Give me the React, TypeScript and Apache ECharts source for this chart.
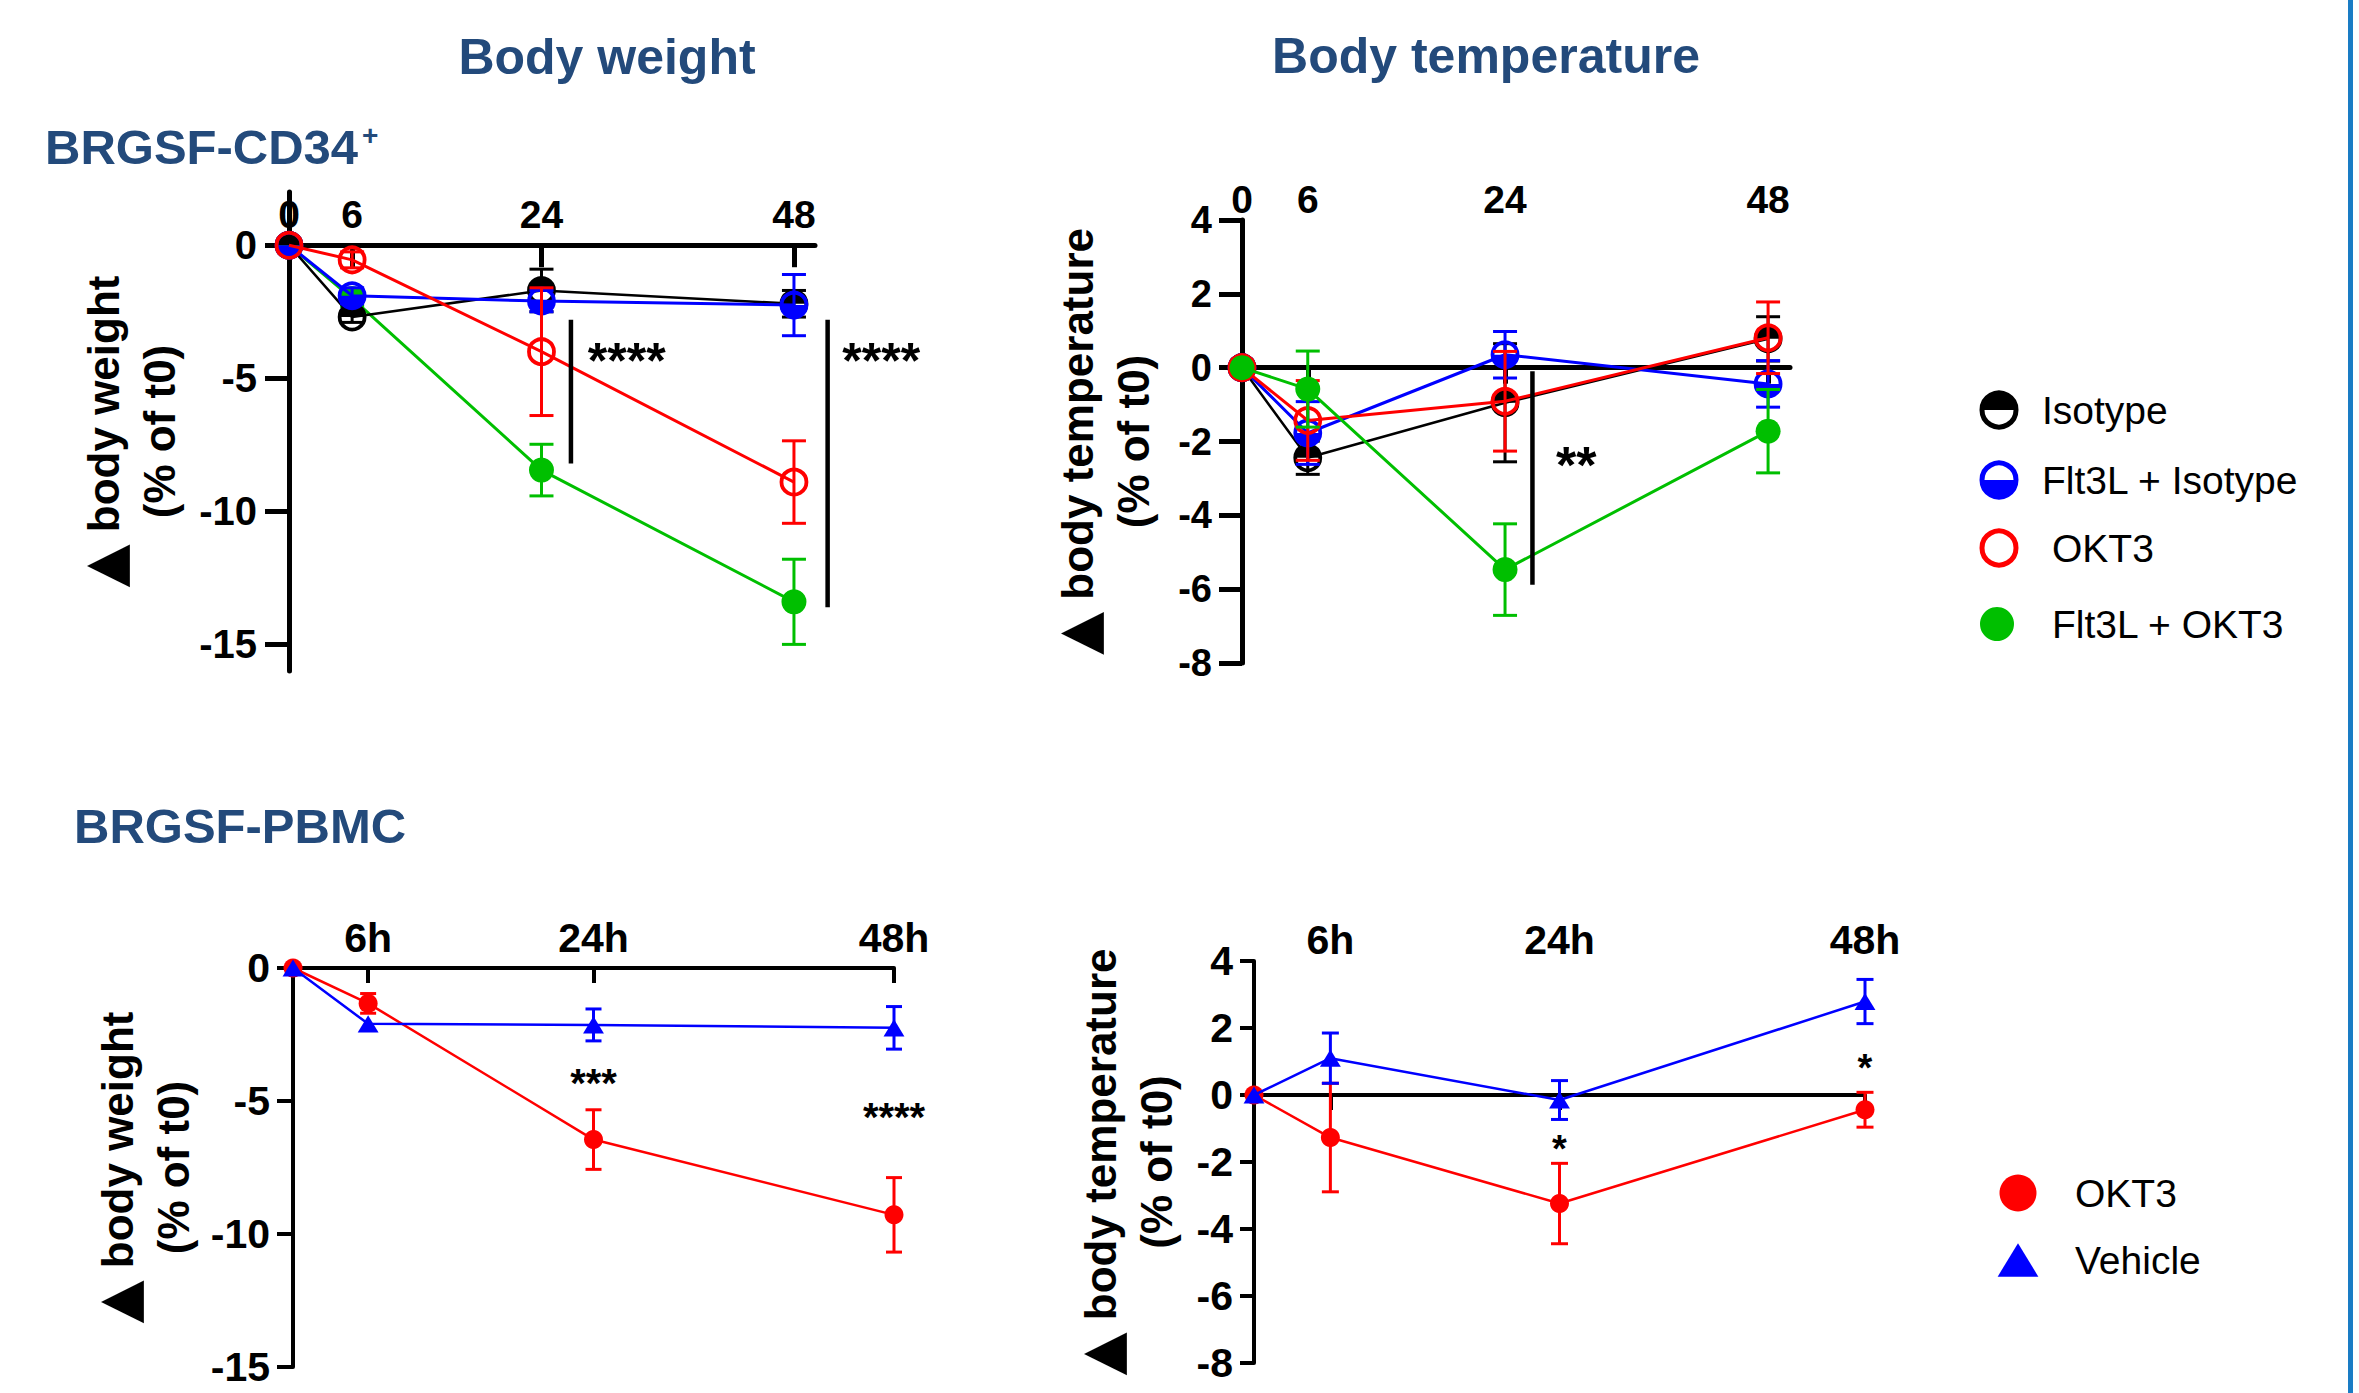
import React, { useEffect, useRef } from 'react';
import * as echarts from 'echarts';

// ---------------- data ----------------
const HOURS = [0, 6, 24, 48];
const X_TICKS_CD34 = [0, 6, 24, 48];
const X_TICKS_PBMC = [6, 24, 48];
const BW_TICKS = [0, -5, -10, -15];
const BT_TICKS = [4, 2, 0, -2, -4, -6, -8];

// BRGSF-CD34+ body weight (% of t0), mean and SEM
const cd34WeightIsotype = [0, -2.7, -1.7, -2.2];
const cd34WeightIsotypeSem = [0, 0.2, 0.8, 0.5];
const cd34WeightFlt3lIsotype = [0, -1.9, -2.1, -2.25];
const cd34WeightFlt3lIsotypeSem = [0, 0.3, 0.4, 1.15];
const cd34WeightOkt3 = [0, -0.55, -4.0, -8.9];
const cd34WeightOkt3Sem = [0, 0.3, 2.4, 1.55];
const cd34WeightFlt3lOkt3 = [0, -2.0, -8.45, -13.4];
const cd34WeightFlt3lOkt3Sem = [0, 0.3, 0.97, 1.6];

// BRGSF-CD34+ body temperature (% of t0)
const cd34TempIsotype = [0, -2.44, -0.95, 0.78];
const cd34TempIsotypeSem = [0, 0.45, 1.6, 0.6];
const cd34TempFlt3lIsotype = [0, -1.77, 0.35, -0.44];
const cd34TempFlt3lIsotypeSem = [0, 0.85, 0.63, 0.63];
const cd34TempOkt3 = [0, -1.43, -0.91, 0.81];
const cd34TempOkt3Sem = [0, 1.08, 1.35, 0.97];
const cd34TempFlt3lOkt3 = [0, -0.58, -5.47, -1.72];
const cd34TempFlt3lOkt3Sem = [0, 1.03, 1.24, 1.13];

// BRGSF-PBMC body weight
const pbmcWeightOkt3 = [0, -1.33, -6.45, -9.28];
const pbmcWeightOkt3Sem = [0, 0.37, 1.12, 1.4];
const pbmcWeightVehicle = [0, -2.1, -2.14, -2.25];
const pbmcWeightVehicleSem = [0, 0, 0.6, 0.8];

// BRGSF-PBMC body temperature
const pbmcTempOkt3 = [0, -1.27, -3.24, -0.44];
const pbmcTempOkt3Sem = [0, 1.62, 1.2, 0.52];
const pbmcTempVehicle = [0, 1.1, -0.15, 2.79];
const pbmcTempVehicleSem = [0, 0.75, 0.58, 0.66];

// significance annotations: [hour, yFrom, yTo] and [hour, y, text]
const cd34WeightSigBars = [[26.8, -2.8, -8.2], [51.2, -2.8, -13.6]];
const cd34WeightStars = [[32.1, -4.04, '****'], [56.3, -4.04, '****']];
const cd34TempSigBars = [[26.5, -0.1, -5.88]];
const cd34TempStars = [[30.5, -2.4, '**']];
const pbmcWeightStars = [[24, -4.1, '***'], [48, -5.35, '****']];
const pbmcTempStars = [[24, -1.42, '*'], [48, 0.98, '*']];

const CD34_LEGEND = ['Isotype', 'Flt3L + Isotype', 'OKT3', 'Flt3L + OKT3'];
const PBMC_LEGEND = ['OKT3', 'Vehicle'];

// ---------------- style ----------------
const FONT = "'Liberation Sans', Arial, Helvetica, sans-serif";
const TITLE_BLUE = '#234a7b';
const BLACK = '#000000';
const BLUE = '#0000ff';
const RED = '#ff0000';
const GREEN = '#00bf00';

type Kind = 'topHalf' | 'bottomHalf' | 'open' | 'filled' | 'triangle';

function markerShapes(kind: Kind, color: string, cx: number, cy: number, r: number, lw: number) {
  if (kind === 'topHalf' || kind === 'bottomHalf') {
    const top = kind === 'topHalf';
    return [
      {
        type: 'sector',
        shape: { cx, cy, r, r0: 0, startAngle: top ? Math.PI : 0, endAngle: top ? 2 * Math.PI : Math.PI },
        style: { fill: color },
      },
      { type: 'circle', shape: { cx, cy, r }, style: { fill: 'none', stroke: color, lineWidth: lw } },
    ];
  }
  if (kind === 'open') {
    return [{ type: 'circle', shape: { cx, cy, r }, style: { fill: 'none', stroke: color, lineWidth: lw } }];
  }
  if (kind === 'filled') {
    return [{ type: 'circle', shape: { cx, cy, r }, style: { fill: color } }];
  }
  const w = r * 1.1;
  const h = r * 0.9;
  return [
    {
      type: 'polygon',
      shape: { points: [[cx, cy - h], [cx - w, cy + h], [cx + w, cy + h]] },
      style: { fill: color },
    },
  ];
}

interface Group {
  name: string;
  mean: number[];
  sem: number[];
  color: string;
  kind: Kind;
}

function groupSeries(g: Group, xi: number, yi: number, z: number, r: number, lw: number, cap: number, lineW: number) {
  return [
    {
      type: 'custom',
      name: g.name + ' SEM',
      xAxisIndex: xi,
      yAxisIndex: yi,
      z,
      silent: true,
      clip: false,
      encode: { x: 0, y: [1, 2] },
      data: HOURS.map((h, i) => [h, g.mean[i] - g.sem[i], g.mean[i] + g.sem[i]]),
      renderItem: (_p: any, api: any) => {
        const x = api.value(0);
        const lo = api.value(1);
        const hi = api.value(2);
        if (!(hi > lo)) return { type: 'group', children: [] };
        const a = api.coord([x, lo]);
        const b = api.coord([x, hi]);
        const st = { stroke: g.color, lineWidth: 3 };
        return {
          type: 'group',
          children: [
            { type: 'line', shape: { x1: a[0], y1: a[1], x2: b[0], y2: b[1] }, style: st },
            { type: 'line', shape: { x1: a[0] - cap, y1: a[1], x2: a[0] + cap, y2: a[1] }, style: st },
            { type: 'line', shape: { x1: b[0] - cap, y1: b[1], x2: b[0] + cap, y2: b[1] }, style: st },
          ],
        };
      },
    },
    {
      type: 'line',
      name: g.name,
      xAxisIndex: xi,
      yAxisIndex: yi,
      z,
      silent: true,
      clip: false,
      symbol: 'none',
      data: HOURS.map((h, i) => [h, g.mean[i]]),
      lineStyle: { color: g.color, width: lineW },
    },
    {
      type: 'custom',
      name: g.name + ' markers',
      xAxisIndex: xi,
      yAxisIndex: yi,
      z,
      silent: true,
      clip: false,
      encode: { x: 0, y: 1 },
      data: HOURS.map((h, i) => [h, g.mean[i]]),
      renderItem: (_p: any, api: any) => {
        const c = api.coord([api.value(0), api.value(1)]);
        return { type: 'group', children: markerShapes(g.kind, g.color, c[0], c[1], r, lw) };
      },
    },
  ];
}

function sigBarSeries(bars: number[][], xi: number, yi: number) {
  return {
    type: 'custom',
    xAxisIndex: xi,
    yAxisIndex: yi,
    z: 20,
    silent: true,
    clip: false,
    encode: { x: 0, y: [1, 2] },
    data: bars,
    renderItem: (_p: any, api: any) => {
      const a = api.coord([api.value(0), api.value(1)]);
      const b = api.coord([api.value(0), api.value(2)]);
      return { type: 'line', shape: { x1: a[0], y1: a[1], x2: b[0], y2: b[1] }, style: { stroke: BLACK, lineWidth: 4.5 } };
    },
  };
}

function starSeries(stars: any[][], xi: number, yi: number, size: number) {
  return {
    type: 'custom',
    xAxisIndex: xi,
    yAxisIndex: yi,
    z: 20,
    silent: true,
    clip: false,
    encode: { x: 0, y: 1 },
    data: stars.map((s) => [s[0], s[1]]),
    renderItem: (p: any, api: any) => {
      const c = api.coord([api.value(0), api.value(1)]);
      return {
        type: 'text',
        x: c[0],
        y: c[1] + size * 0.16,
        style: {
          text: stars[p.dataIndex][2],
          fontSize: size,
          fontWeight: 'bold',
          fontFamily: FONT,
          fill: BLACK,
          align: 'center',
          verticalAlign: 'middle',
        },
      };
    },
  };
}

const cd34Groups = (mean: number[][], sem: number[][]): Group[] => [
  { name: CD34_LEGEND[0], mean: mean[0], sem: sem[0], color: BLACK, kind: 'topHalf' },
  { name: CD34_LEGEND[1], mean: mean[1], sem: sem[1], color: BLUE, kind: 'bottomHalf' },
  { name: CD34_LEGEND[2], mean: mean[2], sem: sem[2], color: RED, kind: 'open' },
  { name: CD34_LEGEND[3], mean: mean[3], sem: sem[3], color: GREEN, kind: 'filled' },
];

function yAxisCfg(gridIndex: number, min: number, max: number, ticks: number[], name: string, nameGap: number, tickLen: number, labelSize: number, labelMargin: number, lineW: number) {
  return {
    type: 'value',
    gridIndex,
    min,
    max,
    position: 'left',
    name,
    nameLocation: 'middle',
    nameRotate: 90,
    nameGap,
    nameTextStyle: {
      fontFamily: FONT,
      fontSize: 44,
      fontWeight: 'bold',
      color: BLACK,
      lineHeight: 56,
      rich: {
        tri: { fontFamily: "'DejaVu Sans'", fontSize: 56, fontWeight: 'bold', color: BLACK, lineHeight: 56 },
        t: { fontFamily: FONT, fontSize: 44, fontWeight: 'bold', color: BLACK, lineHeight: 56 },
      },
    },
    axisLine: { show: true, onZero: false, lineStyle: { color: BLACK, width: lineW } },
    axisTick: { show: true, customValues: ticks, length: tickLen, lineStyle: { color: BLACK, width: lineW } },
    axisLabel: {
      show: true,
      customValues: ticks,
      fontFamily: FONT,
      fontSize: labelSize,
      fontWeight: 'bold',
      color: BLACK,
      margin: labelMargin,
    },
    splitLine: { show: false },
  };
}

// axis drawn on the y = 0 line (line + ticks only)
function xLineAxis(gridIndex: number, max: number, ticks: number[], tickLen: number, lineW: number) {
  return {
    type: 'value',
    gridIndex,
    min: 0,
    max,
    position: 'top',
    axisLine: { show: true, onZero: true, lineStyle: { color: BLACK, width: lineW } },
    axisTick: { show: true, inside: true, customValues: ticks, length: tickLen, lineStyle: { color: BLACK, width: lineW } },
    axisLabel: { show: false },
    splitLine: { show: false },
  };
}

// axis carrying the hour labels at the top of the plot
function xLabelAxis(gridIndex: number, max: number, ticks: number[], fmt: (v: number) => string, labelSize: number, margin: number) {
  return {
    type: 'value',
    gridIndex,
    min: 0,
    max,
    position: 'top',
    axisLine: { show: false, onZero: false },
    axisTick: { show: false },
    axisLabel: {
      show: true,
      customValues: ticks,
      formatter: fmt,
      fontFamily: FONT,
      fontSize: labelSize,
      fontWeight: 'bold',
      color: BLACK,
      margin,
    },
    splitLine: { show: false },
  };
}

function buildOption() {
  const g1 = cd34Groups(
    [cd34WeightIsotype, cd34WeightFlt3lIsotype, cd34WeightOkt3, cd34WeightFlt3lOkt3],
    [cd34WeightIsotypeSem, cd34WeightFlt3lIsotypeSem, cd34WeightOkt3Sem, cd34WeightFlt3lOkt3Sem]
  );
  const g2 = cd34Groups(
    [cd34TempIsotype, cd34TempFlt3lIsotype, cd34TempOkt3, cd34TempFlt3lOkt3],
    [cd34TempIsotypeSem, cd34TempFlt3lIsotypeSem, cd34TempOkt3Sem, cd34TempFlt3lOkt3Sem]
  );
  const p3: Group[] = [
    { name: PBMC_LEGEND[0], mean: pbmcWeightOkt3, sem: pbmcWeightOkt3Sem, color: RED, kind: 'filled' },
    { name: PBMC_LEGEND[1], mean: pbmcWeightVehicle, sem: pbmcWeightVehicleSem, color: BLUE, kind: 'triangle' },
  ];
  const p4: Group[] = [
    { name: PBMC_LEGEND[0], mean: pbmcTempOkt3, sem: pbmcTempOkt3Sem, color: RED, kind: 'filled' },
    { name: PBMC_LEGEND[1], mean: pbmcTempVehicle, sem: pbmcTempVehicleSem, color: BLUE, kind: 'triangle' },
  ];

  const series: any[] = [];
  // panel 1 (order: green, black, blue, red)
  [g1[3], g1[0], g1[1], g1[2]].forEach((g, k) => series.push(...groupSeries(g, 0, 0, 3 + k, 12.5, 3.8, 12, g.color === BLACK ? 2.5 : 3)));
  series.push(sigBarSeries(cd34WeightSigBars, 0, 0));
  series.push(starSeries(cd34WeightStars, 0, 0, 50));
  // panel 2 (order: black, blue, red, green)
  [g2[0], g2[1], g2[2], g2[3]].forEach((g, k) => series.push(...groupSeries(g, 2, 1, 3 + k, 12.5, 3.8, 12, g.color === BLACK ? 2.5 : 3)));
  series.push(sigBarSeries(cd34TempSigBars, 2, 1));
  series.push(starSeries(cd34TempStars, 2, 1, 52));
  // panel 3
  p3.forEach((g, k) => series.push(...groupSeries(g, 4, 2, 3 + k, 9.5, 3, 8, 2.5)));
  series.push(starSeries(pbmcWeightStars, 4, 2, 40));
  // panel 4
  p4.forEach((g, k) => series.push(...groupSeries(g, 6, 3, 3 + k, 9.5, 3, 8.5, 2.5)));
  series.push(starSeries(pbmcTempStars, 6, 3, 38));

  const hourFmt = (v: number) => String(v);
  const hourFmtH = (v: number) => v + 'h';

  // legend graphics
  const legendEls: any[] = [];
  const leg1 = [
    { y: 410, x: 1999, tx: 2042, kind: 'topHalf' as Kind, color: BLACK },
    { y: 480, x: 1999, tx: 2042, kind: 'bottomHalf' as Kind, color: BLUE },
    { y: 548, x: 1999, tx: 2052, kind: 'open' as Kind, color: RED },
    { y: 624, x: 1997, tx: 2052, kind: 'filled' as Kind, color: GREEN },
  ];
  leg1.forEach((l, i) => {
    markerShapes(l.kind, l.color, l.x, l.y, 17, 5).forEach((s) => legendEls.push(s));
    legendEls.push({
      type: 'text',
      x: l.tx,
      y: l.y,
      style: { text: CD34_LEGEND[i], fontFamily: FONT, fontSize: 39, fill: BLACK, align: 'left', verticalAlign: 'middle' },
    });
  });
  const leg2 = [
    { y: 1193, kind: 'filled' as Kind, color: RED },
    { y: 1260, kind: 'triangle' as Kind, color: BLUE },
  ];
  leg2.forEach((l, i) => {
    markerShapes(l.kind, l.color, 2018, l.y, 18.5, 5).forEach((s) => legendEls.push(s));
    legendEls.push({
      type: 'text',
      x: 2075,
      y: l.y,
      style: { text: PBMC_LEGEND[i], fontFamily: FONT, fontSize: 39, fill: BLACK, align: 'left', verticalAlign: 'middle' },
    });
  });

  return {
    animation: false,
    backgroundColor: '#ffffff',
    grid: [
      { left: 289, top: 192, width: 526, height: 479 },
      { left: 1242, top: 220, width: 548, height: 443 },
      { left: 293, top: 968, width: 601, height: 399 },
      { left: 1254, top: 961, width: 611, height: 402 },
    ],
    xAxis: [
      xLabelAxis(0, 50, X_TICKS_CD34, hourFmt, 39, -42),
      xLineAxis(0, 50, X_TICKS_CD34, 22, 5),
      xLabelAxis(1, 50, X_TICKS_CD34, hourFmt, 39, 1),
      xLineAxis(1, 50, X_TICKS_CD34, 16, 5),
      xLabelAxis(2, 48, X_TICKS_PBMC, hourFmtH, 41, 10),
      xLineAxis(2, 48, X_TICKS_PBMC, 15, 4),
      xLabelAxis(3, 48, X_TICKS_PBMC, hourFmtH, 41, 1),
      xLineAxis(3, 48, X_TICKS_PBMC, 15, 4),
    ],
    yAxis: [
      yAxisCfg(0, -16, 2, BW_TICKS, '{tri|▲} body weight\n(% of t0)', 102, 24, 40, 32, 5),
      yAxisCfg(1, -8, 4, BT_TICKS, '{tri|▲} body temperature\n(% of t0)', 81, 23, 38, 30, 5),
      yAxisCfg(2, -15, 0, BW_TICKS, '{tri|▲} body weight\n(% of t0)', 92, 16, 41, 23, 4),
      yAxisCfg(3, -8, 4, BT_TICKS, '{tri|▲} body temperature\n(% of t0)', 70, 14, 41, 21, 4),
    ],
    series,
    graphic: [
      {
        type: 'text',
        x: 607,
        y: 57,
        style: { text: 'Body weight', fontFamily: FONT, fontSize: 50, fontWeight: 'bold', fill: TITLE_BLUE, align: 'center', verticalAlign: 'middle' },
      },
      {
        type: 'text',
        x: 1486,
        y: 56,
        style: { text: 'Body temperature', fontFamily: FONT, fontSize: 50, fontWeight: 'bold', fill: TITLE_BLUE, align: 'center', verticalAlign: 'middle' },
      },
      {
        type: 'text',
        x: 45,
        y: 147,
        style: { text: 'BRGSF-CD34', fontFamily: FONT, fontSize: 49, fontWeight: 'bold', fill: TITLE_BLUE, align: 'left', verticalAlign: 'middle' },
      },
      {
        type: 'text',
        x: 362,
        y: 135,
        style: { text: '+', fontFamily: FONT, fontSize: 28, fontWeight: 'bold', fill: TITLE_BLUE, align: 'left', verticalAlign: 'middle' },
      },
      {
        type: 'text',
        x: 74,
        y: 826,
        style: { text: 'BRGSF-PBMC', fontFamily: FONT, fontSize: 49, fontWeight: 'bold', fill: TITLE_BLUE, align: 'left', verticalAlign: 'middle' },
      },
      ...legendEls,
      { type: 'rect', shape: { x: 2348, y: 0, width: 5, height: 1393 }, style: { fill: '#1a7cc4' } },
    ],
  };
}

export default function App() {
  const ref = useRef<HTMLDivElement>(null);
  useEffect(() => {
    if (!ref.current) return;
    const chart = echarts.init(ref.current, undefined, { renderer: 'svg' });
    chart.setOption(buildOption() as any);
    return () => chart.dispose();
  }, []);
  return (
    <div
      ref={ref}
      style={{ position: 'fixed', left: 0, top: 0, width: '2359px', height: '1393px', background: '#fff' }}
    />
  );
}
